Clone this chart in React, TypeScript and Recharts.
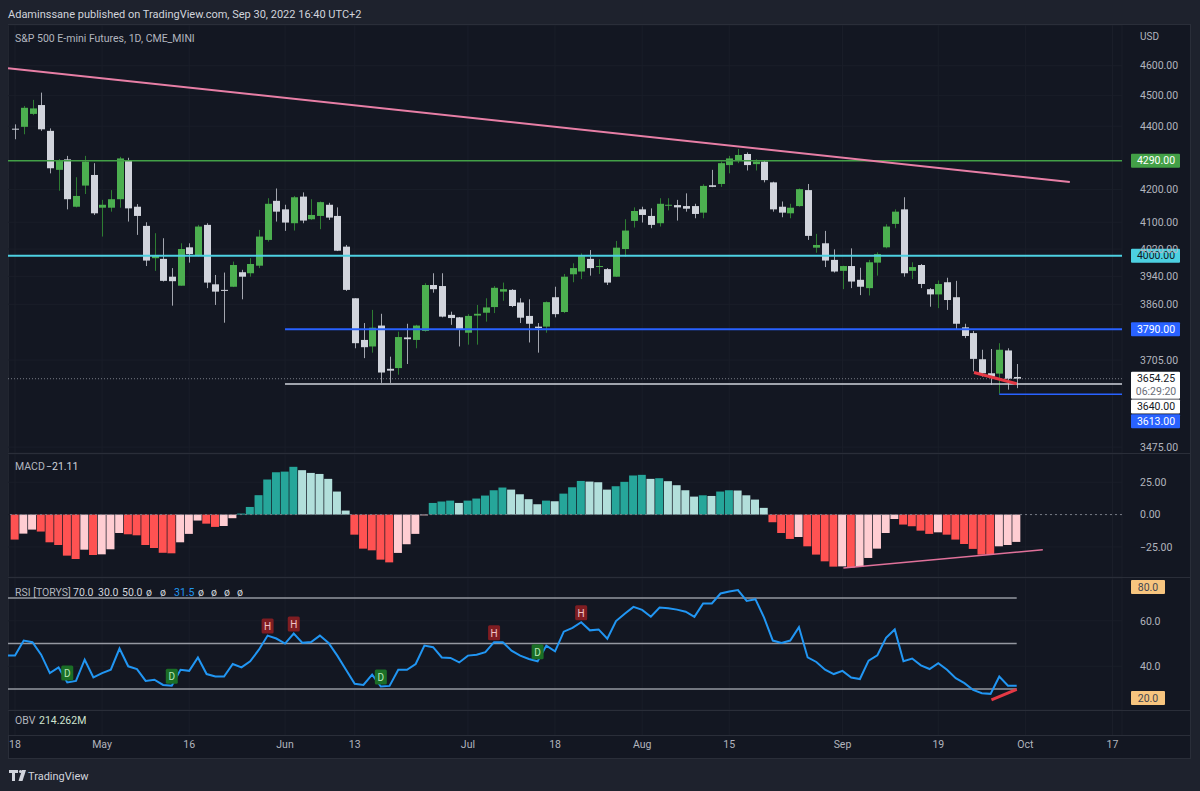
import React from 'react';
import { ComposedChart, Bar, Line, Scatter, XAxis, YAxis, ReferenceLine, CartesianGrid, Cell } from 'recharts';

const FONT = 'Roboto, "Noto Sans", "DejaVu Sans", sans-serif';
const BG = '#131722';
const OUTER = '#1e222d';
const BORDER = '#2a2e39';
const GRID = '#1a1e29';
const TEXT = '#b2b5be';

// bar index 0 = 18 Apr 2022 ... 115 = 30 Sep 2022 (daily sessions)
const opens = [4392,4398,4440,4469,4385,4261,4294,4147,4212,4245,4144,4144,4170,4290,4147,4089,3993,3991,3939,3913,4025,4000,4092,3917,3901,3910,3952,3949,3971,4047,4165,4139,4097,4178,4109,4119,4153,4119,4027,3877,3760,3742,3800,3681,3683,3767,3760,3785,3915,3912,3830,3823,3780,3828,3836,3852,3896,3901,3865,3827,3797,3797,3880,3838,3946,3954,3991,3968,3961,3939,4020,4104,4139,4119,4097,4150,4152,4149,4149,4129,4213,4217,4276,4292,4311,4279,4287,4222,4147,4127,4149,4198,4024,4037,3988,3956,3970,3930,3906,3980,4025,4095,4139,3956,3973,3903,3888,3923,3880,3795,3779,3707,3669,3668,3731,3659];
const highs = [4406,4466,4486,4510,4393,4295,4305,4238,4305,4282,4168,4198,4302,4299,4155,4100,4067,4052,3964,4037,4037,4092,4097,3944,3951,3983,3959,3993,4077,4173,4203,4153,4180,4191,4170,4163,4159,4145,4032,3877,3807,3844,3833,3714,3783,3805,3802,3920,3949,3949,3839,3824,3832,3858,3877,3912,3922,3903,3877,3874,3807,3868,3910,3947,3978,4007,4017,3990,3964,4044,4109,4145,4147,4142,4173,4173,4168,4188,4156,4216,4261,4287,4305,4327,4316,4294,4290,4224,4163,4156,4203,4217,4065,4074,4019,3971,4022,3965,3988,4010,4094,4139,4176,3981,3976,3906,3928,3936,3927,3805,3785,3733,3735,3751,3737,3694];
const lows = [4358,4374,4436,4385,4250,4196,4139,4145,4186,4122,4057,4132,4144,4102,4062,3970,3956,3925,3856,3913,3980,3998,3906,3858,3808,3909,3874,3939,3964,4042,4102,4074,4075,4097,4107,4079,4107,4014,3898,3737,3710,3725,3643,3643,3665,3694,3737,3783,3893,3823,3802,3742,3747,3747,3811,3835,3870,3852,3807,3753,3725,3780,3823,3835,3923,3932,3942,3947,3915,3938,3997,4084,4099,4082,4087,4136,4105,4132,4112,4112,4207,4208,4250,4282,4259,4259,4222,4132,4115,4112,4147,4047,4009,3967,3951,3903,3906,3886,3885,3942,4022,4082,3939,3932,3906,3853,3849,3844,3790,3765,3674,3660,3638,3614,3625,3629];
const closes = [4389,4460,4458,4390,4266,4292,4170,4180,4287,4127,4153,4170,4297,4142,4119,3986,4000,3927,3926,4020,4005,4087,3922,3896,3900,3973,3939,3976,4057,4156,4132,4099,4176,4105,4122,4161,4114,4015,3901,3751,3740,3794,3671,3676,3768,3762,3800,3915,3903,3825,3821,3790,3827,3833,3851,3907,3903,3855,3822,3805,3793,3866,3832,3939,3964,3999,3964,3970,3922,4024,4075,4134,4122,4092,4156,4153,4145,4141,4125,4211,4208,4282,4297,4308,4276,4287,4229,4139,4129,4144,4201,4059,4032,3986,3954,3970,3925,3910,3981,4005,4087,4132,3949,3967,3918,3888,3918,3872,3805,3771,3708,3669,3660,3733,3654,3654.25];

const macdHist = [-19.3,-14.7,-11.6,-13.1,-21.4,-23.5,-31.7,-34.3,-27.1,-31.2,
  -30.7,-26.8,-14.2,-15.2,-16.0,-23.5,-25.8,-29.5,-29.9,-21.4,
  -14.9,-4.6,-7.0,-9.5,-8.8,-2.8,0.8,5.9,15.0,27.1,
  32.7,33.2,36.9,34.3,32.2,31.4,27.6,17.8,3.1,-15.5,
  -26.3,-27.6,-34.8,-36.9,-29.6,-22.9,-14.9,-0.6,9.0,10.1,
  10.8,9.0,10.8,12.4,14.7,18.8,20.9,19.3,15.7,11.9,
  8.0,10.8,10.3,16.2,21.1,26.0,25.5,25.0,19.3,21.9,
  25.3,30.2,30.7,27.6,28.1,25.8,22.7,18.8,13.9,14.9,
  14.4,17.8,18.8,18.6,14.9,11.6,5.2,-5.9,-14.2,-18.8,
  -17.3,-24.5,-30.9,-36.1,-40.2,-40.0,-41.0,-40.3,-33.5,-26.3,
  -14.2,-3.4,-7.7,-9.0,-12.4,-14.9,-13.7,-15.5,-19.3,-22.7,
  -26.5,-30.9,-31.0,-24.5,-23.5,-21.1];

// RSI values starting at bar index -1
const rsiFirstIndex = -1;
const rsiValues = [44.7,44.7,51.3,50.6,45.1,37.0,39.5,32.9,33.6,42.9,35.1,
  37.0,38.5,47.8,40.0,38.8,33.6,34.1,31.8,31.5,38.5,
  38.0,43.9,36.6,35.5,35.5,41.0,39.5,42.2,47.3,53.5,
  52.2,50.0,54.4,50.3,50.7,53.5,50.3,44.7,38.5,32.3,
  31.8,36.3,31.1,31.4,38.5,38.5,41.0,49.1,48.4,43.9,
  43.7,41.7,44.7,45.1,46.2,50.6,50.6,46.9,44.7,43.2,
  42.2,49.1,46.6,55.2,56.9,59.4,55.8,56.2,52.1,59.9,
  63.1,66.1,64.8,61.8,65.8,65.5,64.9,64.0,61.7,67.6,
  67.6,72.0,72.9,73.5,68.7,69.5,61.4,51.3,50.3,51.3,
  57.2,43.9,41.9,38.5,36.6,38.0,35.1,34.4,42.5,44.8,
  52.5,56.2,42.2,43.4,40.4,38.8,41.4,38.5,34.8,32.6,
  29.6,28.2,27.9,35.5,31.5,31.5];
const rsiHighMarks = [29, 32, 55, 65];
const rsiDivMarks = [6, 18, 42, 60];
const rsiLevels = [70, 50, 30];
const rsiTicks = [60, 40];
const rsiDomain = [20.8, 78.8];

const priceTicks = [4600, 4500, 4400, 4200, 4100, 4020, 3940, 3860, 3705, 3475];
const priceDomain = [3460, 4740];
const macdTicks = [25, 0, -25];
const macdDomain = [-48.2, 46.8];

const timeTicks = [0, 10, 20, 31, 39, 52, 62, 72, 82, 95, 106, 116, 126];
const timeLabels = ['18', 'May', '16', 'Jun', '13', 'Jul', '18', 'Aug', '15', 'Sep', '19', 'Oct', '17'];
const X_MIN = -0.804;
const X_MAX = 127.09;

const resistanceLevel = 4290;
const pivotLevel = 4000;
const supportLevel = 3790;
const lowLevel = 3640;
const swingLow = 3613;
const lastPrice = 3654.25;
const levelStartIndex = 31;
const swingLowIndex = 113;
const trendLineIdx = [-0.8, 121.1];
const trendLinePrice = [4592, 4223];
const priceDivIdx = [110.1, 115];
const priceDivPrice = [3671, 3640.6];
const macdTrendIdx = [95.1, 118];
const macdTrendVal = [-41.2, -27.1];
const rsiDivIdx = [112.1, 115];
const rsiDivVal = [25.2, 29.9];

const candleData = opens.map((o, k) => ({ i: k, o, h: highs[k], l: lows[k], c: closes[k], range: [lows[k], highs[k]] }));
const macdData = macdHist.map((v, k) => ({ i: k, v }));
const rsiData = rsiValues.map((v, k) => ({ i: k + rsiFirstIndex, v }));
const rsiAt = (k: number) => rsiValues[k - rsiFirstIndex];
const highMarkData = rsiHighMarks.map((k) => ({ i: k, v: rsiAt(k) }));
const divMarkData = rsiDivMarks.map((k) => ({ i: k, v: rsiAt(k) }));

const macdColor = (k: number) => {
  const v = macdHist[k];
  const prev = k > 0 ? macdHist[k - 1] : v;
  if (v >= 0) return v > prev ? '#26a69a' : '#b2dfdb';
  return v > prev ? '#ffcdd2' : '#ff5252';
};

const CHART_W = 1182;
const AXIS_W = 68;
const M = { top: 0, right: 0, bottom: 0, left: 0 };

function Candle(props: any) {
  const { x, y, width, height, payload } = props;
  if (x == null || !payload) return null;
  const { o, h, l, c } = payload;
  const lnH = Math.log(h);
  const lnL = Math.log(l);
  const span = lnH - lnL;
  const yOf = (p: number) => (span > 0 ? y + ((lnH - Math.log(p)) / span) * height : y);
  const cx = Math.round(x + width / 2) + 0.5;
  const up = c >= o;
  const top = yOf(Math.max(o, c));
  const bot = yOf(Math.min(o, c));
  const bh = Math.max(1, bot - top);
  return (
    <g>
      <line x1={cx} x2={cx} y1={y} y2={y + height} stroke={up ? '#2e7d32' : '#a3a6af'} strokeWidth={1} />
      <rect x={cx - 3.5} y={top} width={7} height={bh} fill={up ? '#4caf50' : '#d1d4dc'} />
    </g>
  );
}

function Tag({ viewBox, text, sub, bg, fg, dy = 0 }: any) {
  if (!viewBox) return null;
  const x = viewBox.x + viewBox.width + 9;
  const cy = viewBox.y + dy;
  const h = sub ? 27 : 14;
  return (
    <g>
      <rect x={x} y={cy - 7} width={49} height={h} fill={bg} rx={1} />
      <text x={x + 25} y={cy + 3.5} textAnchor="middle" fill={fg} fontSize={10.5} fontFamily={FONT}>{text}</text>
      {sub ? (
        <text x={x + 25} y={cy + 16} textAnchor="middle" fill="#6a6d78" fontSize={10.5} fontFamily={FONT}>{sub}</text>
      ) : null}
    </g>
  );
}

function Mark(props: any) {
  const { cx, cy, letter, bg, fg } = props;
  if (cx == null || cy == null) return null;
  return (
    <g>
      <rect x={cx - 6} y={cy - 17} width={12} height={15} rx={1.5} fill={bg} />
      <text x={cx} y={cy - 5.5} textAnchor="middle" fill={fg} fontSize={10} fontFamily={FONT}>{letter}</text>
    </g>
  );
}

const fmtMinus = (v: number, d: number) => (v < 0 ? '\u2212' + Math.abs(v).toFixed(d) : v.toFixed(d));
const tickStyle = { fill: TEXT, fontSize: 10.5, fontFamily: FONT };

function MainPane() {
  return (
    <ComposedChart width={CHART_W} height={428} data={candleData} margin={M}>
      <CartesianGrid stroke={GRID} />
      <XAxis type="number" dataKey="i" domain={[X_MIN, X_MAX]} hide allowDataOverflow ticks={timeTicks} />
      <YAxis orientation="right" width={AXIS_W} scale="log" domain={priceDomain} allowDataOverflow ticks={priceTicks}
        interval={0} tick={tickStyle} tickFormatter={(v: number) => v.toFixed(2)} axisLine={false} tickLine={false}
        tickSize={0} tickMargin={18} />
      <ReferenceLine y={lastPrice} stroke="#787b86" strokeDasharray="1 2" ifOverflow="visible"
        label={(p: any) => <Tag viewBox={p.viewBox} text="3654.25" sub="06:29:20" bg="#ffffff" fg="#131722" />} />
      <Bar dataKey="range" barSize={7} isAnimationActive={false} shape={(p: any) => <Candle {...p} />} />
      <ReferenceLine y={resistanceLevel} stroke="#43a047" strokeWidth={1.5} ifOverflow="visible"
        label={(p: any) => <Tag viewBox={p.viewBox} text="4290.00" bg="#43a047" fg="#ffffff" />} />
      <ReferenceLine y={pivotLevel} stroke="#4dd0e1" strokeWidth={2} ifOverflow="visible"
        label={(p: any) => <Tag viewBox={p.viewBox} text="4000.00" bg="#4dd0e1" fg="#131722" />} />
      <ReferenceLine segment={[{ x: levelStartIndex, y: supportLevel }, { x: X_MAX, y: supportLevel }]} stroke="#2962ff" strokeWidth={2} ifOverflow="visible"
        label={(p: any) => <Tag viewBox={p.viewBox} text="3790.00" bg="#2962ff" fg="#ffffff" />} />
      <ReferenceLine segment={[{ x: levelStartIndex, y: lowLevel }, { x: X_MAX, y: lowLevel }]} stroke="#d1d4dc" strokeWidth={1.5} ifOverflow="visible"
        label={(p: any) => <Tag viewBox={p.viewBox} text="3640.00" bg="#ffffff" fg="#131722" dy={22.5} />} />
      <ReferenceLine segment={[{ x: swingLowIndex, y: swingLow }, { x: X_MAX, y: swingLow }]} stroke="#2962ff" strokeWidth={1.5} ifOverflow="visible"
        label={(p: any) => <Tag viewBox={p.viewBox} text="3613.00" bg="#2962ff" fg="#ffffff" dy={27} />} />
      <ReferenceLine segment={[{ x: trendLineIdx[0], y: trendLinePrice[0] }, { x: trendLineIdx[1], y: trendLinePrice[1] }]}
        stroke="#e87fa6" strokeWidth={2} ifOverflow="visible" />
      <ReferenceLine segment={[{ x: priceDivIdx[0], y: priceDivPrice[0] }, { x: priceDivIdx[1], y: priceDivPrice[1] }]}
        stroke="#e53945" strokeWidth={3} ifOverflow="visible" />
    </ComposedChart>
  );
}

function MacdPane() {
  return (
    <ComposedChart width={CHART_W} height={123} data={macdData} margin={M}>
      <CartesianGrid stroke={GRID} />
      <XAxis type="number" dataKey="i" domain={[X_MIN, X_MAX]} hide allowDataOverflow ticks={timeTicks} />
      <YAxis orientation="right" width={AXIS_W} domain={macdDomain} allowDataOverflow ticks={macdTicks} interval={0}
        tick={tickStyle} tickFormatter={(v: number) => fmtMinus(v, 2)} axisLine={false} tickLine={false} tickSize={0} tickMargin={18} />
      <ReferenceLine y={0} stroke="#787b86" strokeDasharray="2 3" />
      <Bar dataKey="v" barSize={8} isAnimationActive={false}>
        {macdData.map((d, k) => <Cell key={k} fill={macdColor(k)} />)}
      </Bar>
      <ReferenceLine segment={[{ x: macdTrendIdx[0], y: macdTrendVal[0] }, { x: macdTrendIdx[1], y: macdTrendVal[1] }]}
        stroke="#e0719a" strokeWidth={1.5} ifOverflow="visible" />
    </ComposedChart>
  );
}

function RsiPane() {
  return (
    <ComposedChart width={CHART_W} height={132} data={rsiData} margin={M}>
      <CartesianGrid stroke={GRID} />
      <XAxis type="number" dataKey="i" domain={[X_MIN, X_MAX]} hide allowDataOverflow ticks={timeTicks} />
      <YAxis orientation="right" width={AXIS_W} domain={rsiDomain} allowDataOverflow ticks={rsiTicks} interval={0}
        tick={tickStyle} tickFormatter={(v: number) => v.toFixed(1)} axisLine={false} tickLine={false} tickSize={0} tickMargin={18} />
      {rsiLevels.map((lv) => (
        <ReferenceLine key={lv} segment={[{ x: X_MIN, y: lv }, { x: 115, y: lv }]} stroke="#9598a1" strokeWidth={1.5} ifOverflow="visible" />
      ))}
      <Line dataKey="v" type="linear" stroke="#2196f3" strokeWidth={2} dot={false} isAnimationActive={false} />
      <ReferenceLine segment={[{ x: rsiDivIdx[0], y: rsiDivVal[0] }, { x: rsiDivIdx[1], y: rsiDivVal[1] }]}
        stroke="#e53945" strokeWidth={3} ifOverflow="visible" />
      <Scatter data={highMarkData} dataKey="v" isAnimationActive={false}
        shape={(p: any) => <Mark {...p} letter="H" bg="#7f1d22" fg="#f2c4c4" />} />
      <Scatter data={divMarkData} dataKey="v" isAnimationActive={false}
        shape={(p: any) => <Mark {...p} letter="D" bg="#1b6e26" fg="#b9e6b9" />} />
    </ComposedChart>
  );
}

function TimePane() {
  return (
    <ComposedChart width={CHART_W} height={47} data={candleData} margin={M}>
      <CartesianGrid stroke={GRID} horizontal={false} />
      <XAxis type="number" dataKey="i" domain={[X_MIN, X_MAX]} allowDataOverflow ticks={timeTicks} interval={0} height={23}
        tickFormatter={(v: number) => timeLabels[timeTicks.indexOf(v)] ?? ''} axisLine={false} tickLine={false}
        tickSize={0} tickMargin={6} tick={tickStyle} />
      <YAxis orientation="right" width={AXIS_W} domain={[0, 1]} tick={false} axisLine={false} tickLine={false} />
    </ComposedChart>
  );
}

export default function App() {
  return (
    <div style={{ position: 'absolute', left: 0, top: 0, width: 1200, height: 791, background: OUTER, overflow: 'hidden', fontFamily: FONT }}>
      <div style={{ position: 'absolute', left: 8, top: 24, width: 1183, height: 735, background: BG, boxSizing: 'border-box', border: `1px solid ${BORDER}` }} />
      <div style={{ position: 'absolute', left: 8, top: 25 }}><MainPane /></div>
      <div style={{ position: 'absolute', left: 8, top: 454 }}><MacdPane /></div>
      <div style={{ position: 'absolute', left: 8, top: 578 }}><RsiPane /></div>
      <div style={{ position: 'absolute', left: 8, top: 711 }}><TimePane /></div>
      <svg width={1200} height={791} style={{ position: 'absolute', left: 0, top: 0, pointerEvents: 'none' }}>
        <line x1={8} x2={1191} y1={453.5} y2={453.5} stroke={BORDER} />
        <line x1={8} x2={1191} y1={577.5} y2={577.5} stroke={BORDER} />
        <line x1={8} x2={1191} y1={710.5} y2={710.5} stroke={BORDER} />
        <line x1={8} x2={1191} y1={735.5} y2={735.5} stroke={BORDER} />
        <text x={8} y={18} fill="#d1d4dc" fontSize={11} fontFamily={FONT}>Adaminssane published on TradingView.com, Sep 30, 2022 16:40 UTC+2</text>
        <text x={15} y={42} fill={TEXT} fontSize={10.5} fontFamily={FONT}>S&amp;P 500 E-mini Futures, 1D, CME_MINI</text>
        <text x={1140} y={40} fill={TEXT} fontSize={10} fontFamily={FONT}>USD</text>
        <text x={15} y={470} fill={TEXT} fontSize={10.5} fontFamily={FONT}>MACD</text>
        <text x={46} y={470} fill="#d1d4dc" fontSize={10.5} fontFamily={FONT}>{'\u2212'}21.11</text>
        <text y={596} fontSize={10.5} fontFamily={FONT}>
          <tspan x={15} fill={TEXT}>RSI [TORYS]</tspan>
          <tspan x={73} fill="#d1d4dc">70.0</tspan>
          <tspan x={98} fill="#d1d4dc">30.0</tspan>
          <tspan x={122} fill="#d1d4dc">50.0</tspan>
          <tspan x={146} fill="#d1d4dc">ø</tspan>
          <tspan x={160} fill="#d1d4dc">ø</tspan>
          <tspan x={174} fill="#2196f3">31.5</tspan>
          <tspan x={198} fill="#d1d4dc">ø</tspan>
          <tspan x={211} fill="#d1d4dc">ø</tspan>
          <tspan x={224} fill="#d1d4dc">ø</tspan>
          <tspan x={237} fill="#d1d4dc">ø</tspan>
        </text>
        <text x={15} y={724} fill={TEXT} fontSize={10.5} fontFamily={FONT}>OBV</text>
        <text x={39} y={724} fill="#cfe3cf" fontSize={10.5} fontFamily={FONT}>214.262M</text>
        <rect x={1131} y={580} width={34} height={14} fill="#f7c57f" rx={1} />
        <text x={1148} y={590.5} textAnchor="middle" fill="#434651" fontSize={10.5} fontFamily={FONT}>80.0</text>
        <rect x={1131} y={691} width={34} height={14} fill="#f7c57f" rx={1} />
        <text x={1148} y={701.5} textAnchor="middle" fill="#434651" fontSize={10.5} fontFamily={FONT}>20.0</text>
        <g fill="#d1d4dc">
          <rect x={9} y={770} width={9} height={3} />
          <rect x={12} y={770} width={3} height={11} />
          <circle cx={20.5} cy={771.5} r={1.6} />
          <polygon points="22,770 26,770 22.5,781 18.5,781" />
        </g>
        <text x={28} y={780} fill="#d1d4dc" fontSize={11} fontFamily={FONT}>TradingView</text>
      </svg>
    </div>
  );
}
